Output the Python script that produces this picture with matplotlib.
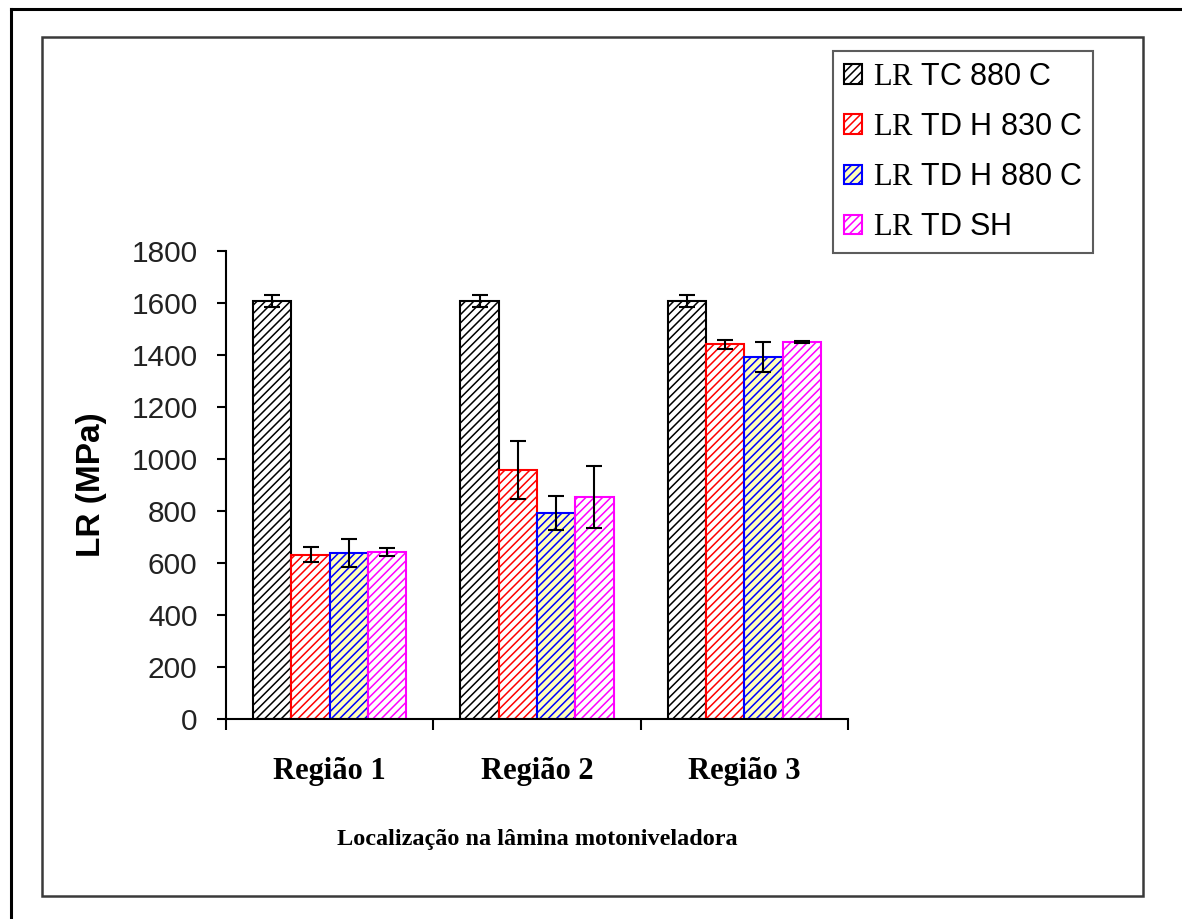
import numpy as np
import matplotlib
matplotlib.use("Agg")
import matplotlib.pyplot as plt
from matplotlib.patches import Rectangle
from matplotlib.lines import Line2D

plt.rcParams['font.family'] = ['Liberation Sans', 'DejaVu Sans']
plt.rcParams['mathtext.fontset'] = 'custom'
plt.rcParams['mathtext.rm'] = 'Liberation Serif'
plt.rcParams['hatch.linewidth'] = 1.1

categories = ['Região 1', 'Região 2', 'Região 3']
series = ['TC 880 C', 'TD H 830 C', 'TD H 880 C', 'TD SH']
lr_tc880 = [1608, 1608, 1608]
lr_tdh830 = [631, 958, 1442]
lr_tdh880 = [638, 792, 1392]
lr_tdsh = [642, 854, 1450]
err_tc880 = [22, 22, 22]
err_tdh830 = [29, 113, 17]
err_tdh880 = [55, 65, 57]
err_tdsh = [15, 120, 5]
yticks = [0, 200, 400, 600, 800, 1000, 1200, 1400, 1600, 1800]

values = [lr_tc880, lr_tdh830, lr_tdh880, lr_tdsh]
errors = [err_tc880, err_tdh830, err_tdh880, err_tdsh]
edges = ['black', '#ff0000', '#0000ff', '#ff00ff']
faces = ['white', 'white', '#ffffb8', 'white']

fig = plt.figure(figsize=(11.82, 9.19), dpi=100)
ax = fig.add_axes([226/1182, 1 - 719/919, 622/1182, 468/919])

x = np.arange(len(categories)) + 0.5
w = 0.1845
for i in range(4):
    pos = x + (i - 1.5) * w
    ax.bar(pos, values[i], width=w, facecolor=faces[i], edgecolor=edges[i],
           hatch='////', linewidth=1.5, label=r'$\mathrm{LR}$ ' + series[i], zorder=2)
    ax.errorbar(pos, values[i], yerr=errors[i], fmt='none', ecolor='black',
                elinewidth=1.5, capsize=6, capthick=1.5, zorder=3)

ax.set_xlim(0, 3)
ax.set_ylim(0, 1800)
ax.set_yticks(yticks)
ax.tick_params(axis='y', direction='out', length=6.5, width=1.5, pad=14,
               labelsize=21.5, labelcolor='#222222')
ax.set_xticks([0, 1, 2, 3])
ax.set_xticklabels([])
ax.tick_params(axis='x', which='major', direction='out', length=8, width=1.5)
ax.set_xticks(x, minor=True)
ax.set_xticklabels(categories, minor=True, fontfamily='Liberation Serif',
                   fontweight='bold', fontsize=22)
ax.tick_params(axis='x', which='minor', length=0, pad=27)
for s in ['top', 'right']:
    ax.spines[s].set_visible(False)
for s in ['left', 'bottom']:
    ax.spines[s].set_linewidth(1.5)

ax.set_ylabel('LR (MPa)', fontsize=24, fontweight='bold')
ax.yaxis.set_label_coords(-0.191, 0.5)
ax.set_xlabel('Localização na lâmina motoniveladora', fontfamily='Liberation Serif',
              fontweight='bold', fontsize=17.5)
ax.xaxis.set_label_coords(0.5, -0.235)

leg = fig.legend(loc='upper left', bbox_to_anchor=(833/1182, 1 - 51/919),
                 borderaxespad=0, fontsize=22, fancybox=False, frameon=True,
                 handlelength=0.6, handleheight=0.6, handletextpad=0.35,
                 labelspacing=0.66, borderpad=0.35)
leg.get_frame().set_edgecolor('#333333')
leg.get_frame().set_linewidth(1.5)

# outer frames
fig.add_artist(Line2D([11/1182, 11/1182], [0, 1 - 9/919], color='black', lw=2.2,
                      transform=fig.transFigure))
fig.add_artist(Line2D([11/1182, 1], [1 - 9/919, 1 - 9/919], color='black', lw=2.2,
                      transform=fig.transFigure))
fig.add_artist(Rectangle((42/1182, 1 - 896/919), 1101/1182, 859/919, fill=False,
                         edgecolor='#3a3a3a', lw=1.8, transform=fig.transFigure))

fig.savefig('out.png', dpi=100)
